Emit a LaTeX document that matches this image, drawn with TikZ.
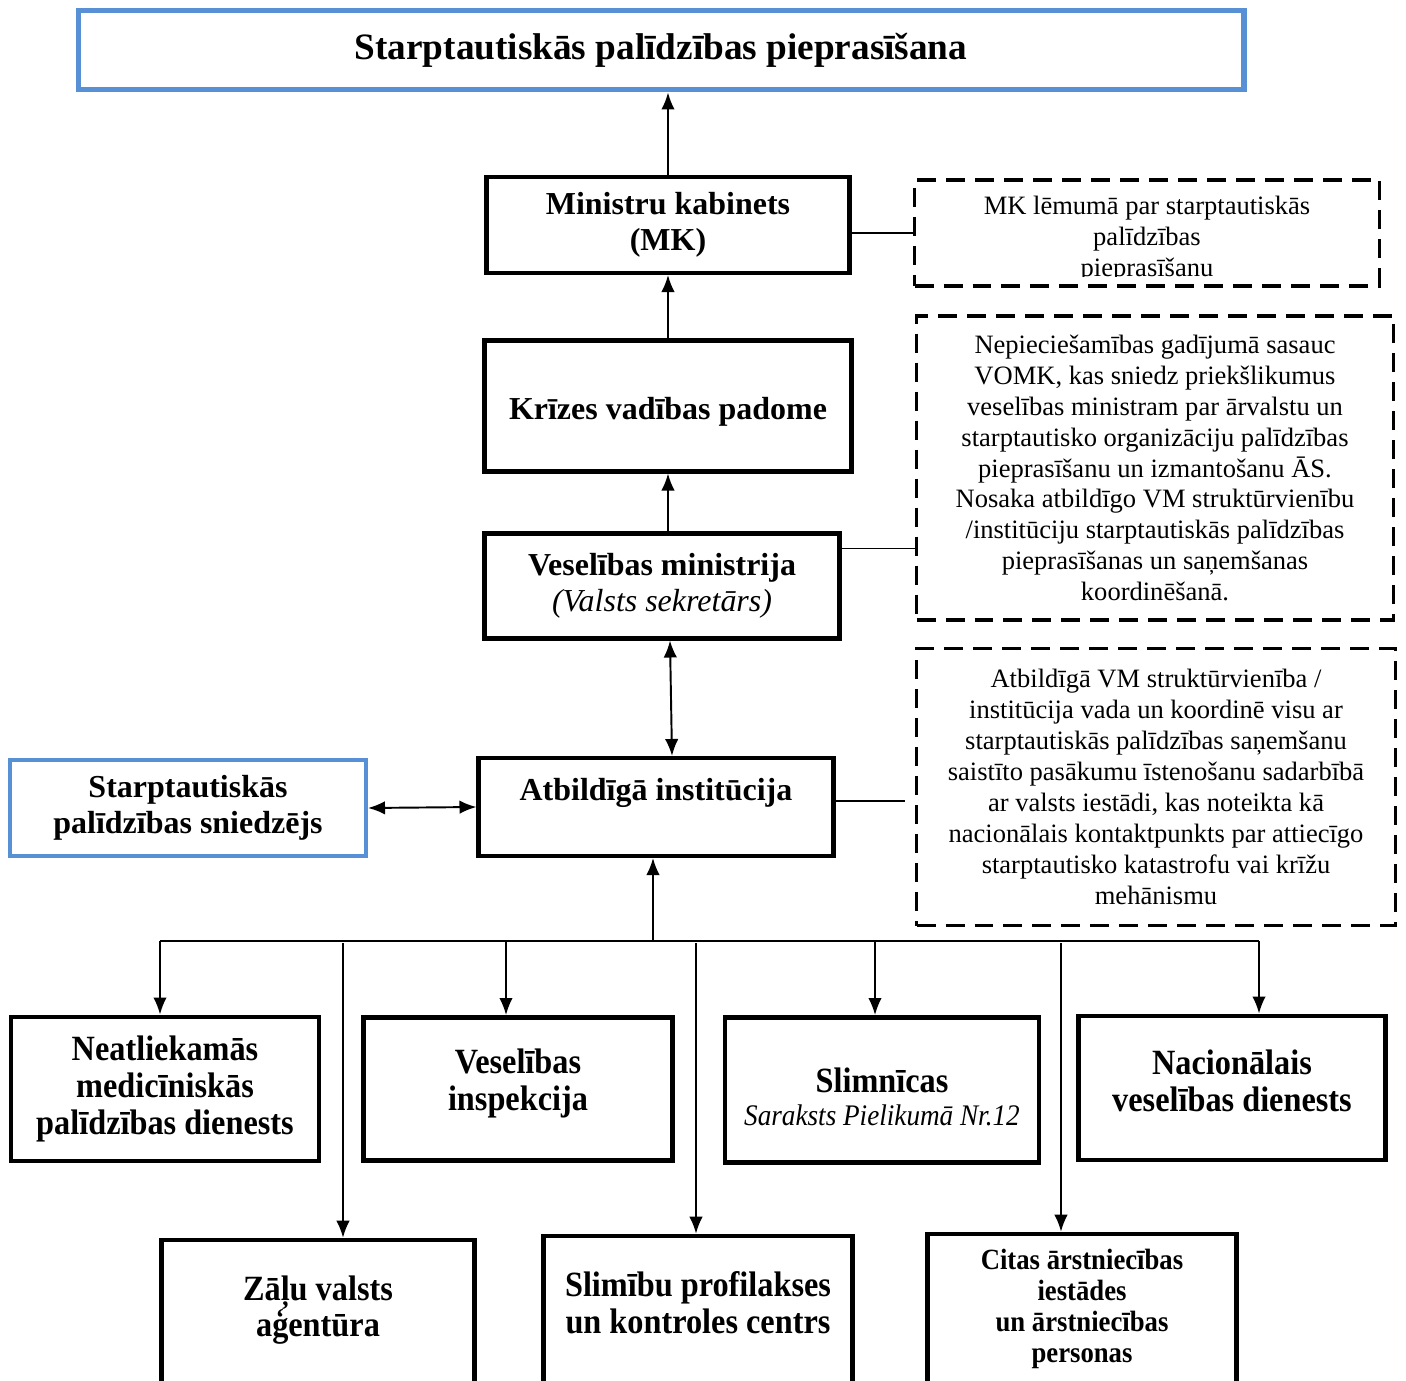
\documentclass[tikz,border=0pt]{standalone}
\usepackage{fontspec}
\setmainfont{Liberation Serif}
\newfontfamily\condfont[FakeStretch=0.91]{Liberation Serif}
\usetikzlibrary{arrows.meta}
\definecolor{boxblue}{RGB}{88,144,214}

\tikzset{
  sz/.style 2 args={minimum width=#1*0.02cm,minimum height=#2*0.02cm},
  box/.style={draw,line width=2.3pt,align=center,inner sep=0pt,
    font=\fontsize{18.2}{20.5}\selectfont\bfseries},
  bluebox/.style={box,draw=boxblue},
  lowbox/.style={box,line width=2.8pt,font=\condfont\bfseries\fontsize{20.2}{21}\selectfont},
  note/.style={draw,line width=2.2pt,dash pattern=on 0.38cm off 0.2cm,
    align=center,inner sep=0pt,font=\fontsize{15.1}{17.6}\selectfont},
  arr/.style={line width=1.1pt,-{Latex[length=0.34cm,width=0.27cm]}},
  dbl/.style={arr,{Latex[length=0.34cm,width=0.27cm]}-{Latex[length=0.34cm,width=0.27cm]}},
  thin/.style={arr,line width=0.8pt}
}

\begin{document}
\begin{tikzpicture}[x=0.02cm,y=-0.02cm]
  \clip (0,0) rectangle (1406,1381);

  % top of the chain
  \node[bluebox,sz={1165}{79},line width=3.4pt,font=\fontsize{21.2}{24}\selectfont\bfseries] (title) at (661,50)
    {Starptautiskās palīdzības pieprasīšana};
  \node[box,sz={363}{96}] (mk) at (668,225) {Ministru kabinets\\(MK)};
  \node[box,sz={367}{131},text height=19pt] (kvp) at (668,406) {Krīzes vadības padome};
  \node[box,sz={355}{105}] (vm) at (662,586)
    {Veselības ministrija\\{\mdseries\itshape (Valsts sekretārs)}};
  \node[box,sz={355}{98}] (ai) at (656,807) {Atbildīgā institūcija\\ \mbox{}};
  \node[bluebox,sz={356}{96}] (donor) at (188,808) {Starptautiskās\\palīdzības sniedzējs};

  % notes on the right
  \node[note,sz={465}{106}] (mkNote) at (1147,233) {};
  \begin{scope}
    \clip (913,178) rectangle (1382,277);
    \node[align=center,font=\fontsize{15.1}{17.6}\selectfont] (mkText) at (1147,239)
      {MK lēmumā par starptautiskās\\palīdzības\\pieprasīšanu};
  \end{scope}
  \node[note,sz={477}{304}] (kvpNote) at (1155,468)
    {Nepieciešamības gadījumā sasauc\\VOMK, kas sniedz priekšlikumus\\veselības ministram par ārvalstu un\\starptautisko organizāciju palīdzības\\pieprasīšanu un izmantošanu ĀS.\\Nosaka atbildīgo VM struktūrvienību\\/institūciju starptautiskās palīdzības\\pieprasīšanas un saņemšanas\\koordinēšanā.};
  \node[note,sz={479}{277}] (aiNote) at (1156,787)
    {Atbildīgā VM struktūrvienība /\\institūcija vada un koordinē visu ar\\starptautiskās palīdzības saņemšanu\\saistīto pasākumu īstenošanu sadarbībā\\ar valsts iestādi, kas noteikta kā\\nacionālais kontaktpunkts par attiecīgo\\starptautisko katastrofu vai krīžu\\mehānismu};

  % subordinate institutions
  \node[lowbox,sz={308}{144}] (nmpd) at (165,1089)
    {Neatliekamās\\medicīniskās\\palīdzības dienests};
  \node[lowbox,sz={309}{143},text depth=11pt] (vi) at (518,1089) {Veselības\\inspekcija};
  \node[lowbox,sz={314}{145},text height=41pt] (slim) at (882,1090)
    {Slimnīcas\\[-2pt]{\mdseries\itshape\fontsize{17}{19}\selectfont Saraksts Pielikumā Nr.12}};
  \node[lowbox,sz={307}{144},text depth=8pt] (nvd) at (1232,1088) {Nacionālais\\veselības dienests};
  \node[lowbox,sz={313}{150},text depth=10pt] (zva) at (318,1315) {Zāļu valsts\\aģentūra};
  \node[lowbox,sz={309}{150},text depth=10pt] (spkc) at (698,1311) {Slimību profilakses\\un kontroles centrs};
  \node[lowbox,sz={309}{150},font=\condfont\bfseries\fontsize{16.7}{17.6}\selectfont] (citas) at (1082,1309)
    {Citas ārstniecības\\iestādes\\un ārstniecības\\personas};

  % vertical chain
  \draw[arr] (mk.north) -- (mk.north |- title.south);
  \draw[arr] (kvp.north) -- (kvp.north |- mk.south);
  \draw[arr] (kvp.south |- vm.north) -- (kvp.south);
  \draw[dbl] ([xshift=0.16cm]vm.south) -- ([xshift=0.32cm]ai.north);
  \draw[dbl] (donor.east) -- (ai.west);

  % links to notes
  \draw[line width=1.1pt] (mkNote.west -| mk.east) -- (mkNote.west);
  \draw[line width=1.1pt] ([yshift=0.75cm]vm.east) -- ([yshift=0.75cm]vm.east -| kvpNote.west);
  \draw[line width=1.1pt] ([yshift=0.12cm]ai.east) -- ([yshift=0.12cm,xshift=-0.2cm]ai.east -| aiNote.west);

  % bus below
  \coordinate (bus) at (653,941);
  \draw[arr] (bus) -- (bus |- ai.south);
  \foreach \x/\n in {160/nmpd,506/vi,875/slim,1259/nvd}
  {
    \coordinate (top-\n) at (\x,941);
    \draw[arr] (top-\n) -- (top-\n |- \n.north);
  }
  \foreach \x/\n in {343/zva,696/spkc,1061/citas}
  {
    \coordinate (top-\n) at (\x,943);
    \draw[thin] (top-\n) -- (top-\n |- \n.north);
  }
  \draw[line width=1.1pt] (top-nmpd) -- (top-nvd);
\end{tikzpicture}
\end{document}
